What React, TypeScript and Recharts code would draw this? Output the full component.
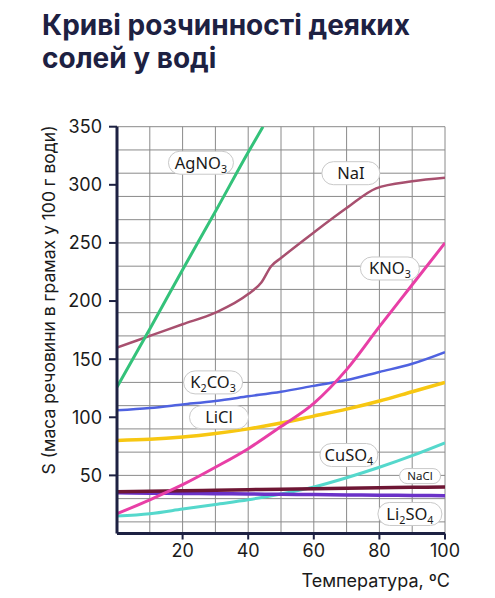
import React from "react";
import { LineChart, Line, XAxis, YAxis, CartesianGrid, ReferenceDot } from "recharts";

// ---- data ----
const temps = [0, 10, 20, 30, 40, 50, 60, 70, 80, 90, 100];
const tempsAgNO3 = [0, 10, 20, 30, 40, 44.5];
const agno3 = [126, 176, 227, 277, 328, 350];
const tempsNaI = [0, 10, 20, 30, 40, 44, 47, 50, 60, 70, 79, 90, 100];
const nai = [160, 170, 180, 190, 206, 216, 230, 237, 259, 280, 297, 303, 306];
const kno3 = [17, 29, 42, 57, 73, 92, 112, 141, 178, 214, 250];
const k2co3 = [106, 108, 111, 114, 118, 122, 127, 132, 139, 146, 156];
const licl = [80, 81, 83, 86, 90, 95, 101, 107, 114, 122, 130];
const cuso4 = [15, 17, 21, 25, 29, 34, 40, 48, 57, 67, 78];
const nacl = [36, 36.4, 36.8, 37.2, 37.7, 38.1, 38.5, 38.9, 39.3, 39.7, 40];
const li2so4 = [35, 34.7, 34.5, 34.2, 34, 33.7, 33.5, 33.2, 33, 32.8, 32.5];

const xTicks = [20, 40, 60, 80, 100];
const yTicks = [50, 100, 150, 200, 250, 300, 350];
const gridX = [0, 10, 20, 30, 40, 50, 60, 70, 80, 90, 100];
const gridY = [0, 10, 20, 30, 40, 50, 60, 70, 80, 90, 100, 110, 120, 130, 140, 150, 160, 170, 180, 190, 200, 210, 220, 230, 240, 250, 260, 270, 280, 290, 300, 310, 320, 330, 340, 350];

const labelTexts = ["AgNO_3", "NaI", "KNO_3", "K_2CO_3", "LiCl", "CuSO_4", "NaCl", "Li_2SO_4"];
const labelT = [25.6, 71.3, 83.2, 29.3, 31.1, 70.7, 92.4, 89.3];
const labelS = [319, 310, 228, 130, 100, 67.5, 49.4, 16.8];

const title = ["Криві розчинності деяких", "солей у воді"];
const yTitle = "S (маса речовини в грамах у 100 г води)";
const xTitle = "Температура, ºC";

// ---- styles ----
const pillW = [65, 58, 59, 59, 59, 58, 41, 64];
const pillH = [23, 23, 23, 23, 23, 23, 15, 23];
const pillFont = [16.5, 16.5, 16.5, 16.5, 16.5, 16.5, 11.5, 16.5];
const NAVY = "#1d2142";

const zip = (xs: number[], ys: number[]) => xs.map((t, i) => ({ t, v: ys[i] }));

const series = [
  { name: "CuSO4", data: zip(temps, cuso4), color: "#55d8cc", w: 3 },
  { name: "Li2SO4", data: zip(temps, li2so4), color: "#6a32c8", w: 3.5 },
  { name: "NaCl", data: zip(temps, nacl), color: "#6e1634", w: 3.5 },
  { name: "LiCl", data: zip(temps, licl), color: "#f7c712", w: 3.5 },
  { name: "K2CO3", data: zip(temps, k2co3), color: "#4f62e0", w: 2.5 },
  { name: "KNO3", data: zip(temps, kno3), color: "#e83fa6", w: 3 },
  { name: "NaI", data: zip(tempsNaI, nai), color: "#a8506f", w: 2.5 },
  { name: "AgNO3", data: zip(tempsAgNO3, agno3), color: "#34c27a", w: 3 },
];

function parseLabel(s: string) {
  const parts: { txt: string; sub: boolean }[] = [];
  let buf = "";
  for (let i = 0; i < s.length; i++) {
    if (s[i] === "_") {
      if (buf) parts.push({ txt: buf, sub: false });
      buf = "";
      parts.push({ txt: s[i + 1], sub: true });
      i++;
    } else buf += s[i];
  }
  if (buf) parts.push({ txt: buf, sub: false });
  return parts;
}

function Pill(props: any) {
  const { cx, cy, idx } = props;
  if (cx == null || cy == null) return null;
  const w = pillW[idx];
  const h = pillH[idx];
  const fs = pillFont[idx];
  const parts = parseLabel(labelTexts[idx]);
  let prevSub = false;
  return (
    <g>
      <rect x={cx - w / 2} y={cy - h / 2} width={w} height={h} rx={h / 2} ry={h / 2} fill="#ffffff" stroke="#c9c9c9" strokeWidth={1} />
      <text x={cx} y={cy + fs * 0.36} textAnchor="middle" fontSize={fs} fill="#1a1a1a" fontFamily="'Noto Sans', sans-serif">
        {parts.map((p, i) => {
          let dy = 0;
          if (p.sub && !prevSub) dy = 4;
          if (!p.sub && prevSub) dy = -4;
          prevSub = p.sub;
          return (
            <tspan key={i} dy={dy} fontSize={p.sub ? fs * 0.65 : fs}>
              {p.txt}
            </tspan>
          );
        })}
      </text>
    </g>
  );
}

export default function App() {
  return (
    <div style={{ position: "absolute", left: 0, top: 0, width: 495, height: 598, background: "#fff", fontFamily: "Inter, sans-serif" }}>
      <div style={{ position: "absolute", left: 42, top: 9, fontSize: 28, lineHeight: "33px", fontWeight: 700, color: NAVY, whiteSpace: "nowrap" }}>
        {title[0]}
        <br />
        {title[1]}
      </div>
      <LineChart
        width={495}
        height={598}
        margin={{ top: 126.7, right: 50, bottom: 34.5, left: 57 }}
        style={{ position: "absolute", left: 0, top: 0, fontFamily: "Inter, sans-serif" }}
      >
        <CartesianGrid stroke="#8a8a8a" strokeWidth={1} horizontalValues={gridY} verticalValues={gridX} />
        <XAxis
          type="number"
          dataKey="t"
          domain={[0, 100]}
          ticks={xTicks}
          allowDataOverflow
          axisLine={{ stroke: NAVY, strokeWidth: 3 }}
          tickLine={{ stroke: NAVY, strokeWidth: 2 }}
          tickSize={6}
          tickMargin={5}
          height={30}
          tick={{ fill: "#1a1a1a", fontSize: 18 }}
        />
        <YAxis
          type="number"
          dataKey="v"
          domain={[0, 350]}
          ticks={yTicks}
          allowDataOverflow
          axisLine={{ stroke: NAVY, strokeWidth: 3 }}
          tickLine={{ stroke: NAVY, strokeWidth: 2 }}
          tickSize={8}
          tickMargin={7}
          width={60}
          tick={{ fill: "#1a1a1a", fontSize: 18 }}
        />
        {series.map((s) => (
          <Line
            key={s.name}
            data={s.data}
            dataKey="v"
            type="monotone"
            stroke={s.color}
            strokeWidth={s.w}
            dot={false}
            activeDot={false}
            isAnimationActive={false}
          />
        ))}
        {labelTexts.map((l, i) => (
          <ReferenceDot
            key={l}
            x={labelT[i]}
            y={labelS[i]}
            r={0}
            ifOverflow="visible"
            shape={(p: any) => <Pill cx={p.cx} cy={p.cy} idx={i} />}
          />
        ))}
      </LineChart>
      <div
        style={{
          position: "absolute",
          left: 49 - 220,
          top: 300 - 11,
          width: 440,
          height: 22,
          lineHeight: "22px",
          textAlign: "center",
          fontSize: 17.5,
          color: "#1a1a1a",
          transform: "rotate(-90deg)",
          whiteSpace: "nowrap",
        }}
      >
        {yTitle}
      </div>
      <div style={{ position: "absolute", right: 45, top: 570, fontSize: 18, lineHeight: "22px", color: "#1a1a1a", whiteSpace: "nowrap" }}>
        {xTitle}
      </div>
    </div>
  );
}
